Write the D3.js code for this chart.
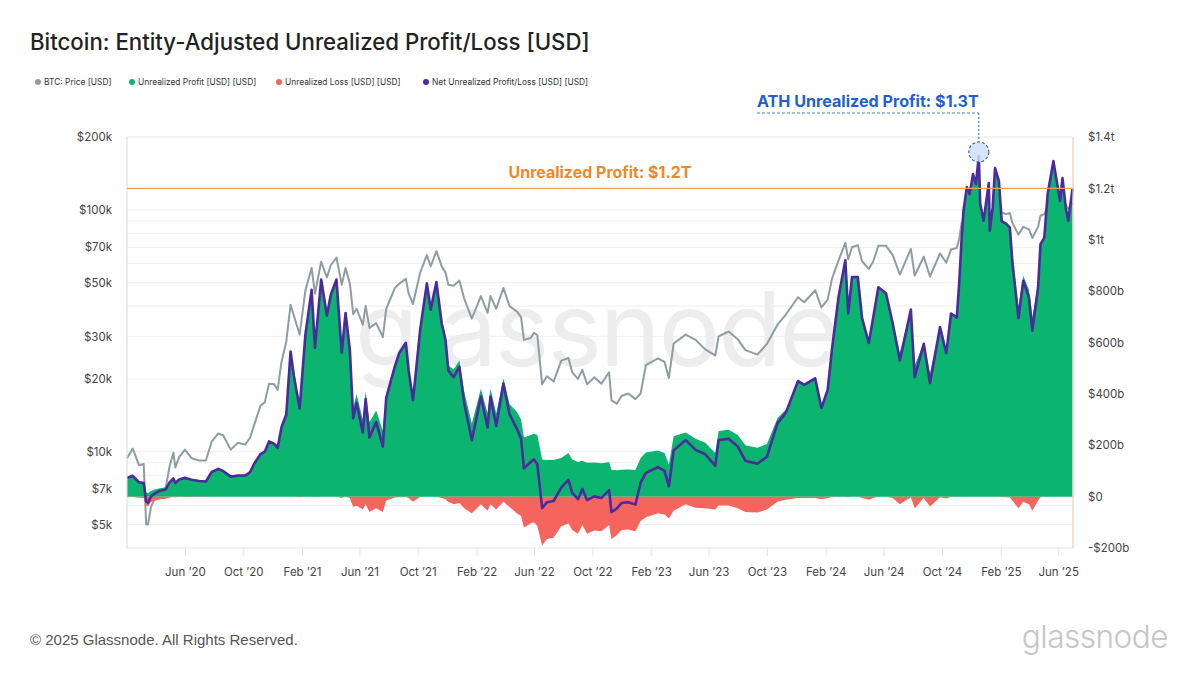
<!DOCTYPE html>
<html><head><meta charset="utf-8">
<script src="https://cdn.jsdelivr.net/npm/d3@7"></script>
<style>body{margin:0;background:#fff}svg{display:block}</style>
</head><body>
<svg id="c" width="1200" height="675"></svg>
<script>
// ---------------- DATA ----------------
const dates = ["2020-02-01","2020-02-13","2020-02-26","2020-03-07","2020-03-12","2020-03-16","2020-03-22","2020-03-30","2020-04-10","2020-04-22","2020-04-30","2020-05-08","2020-05-12","2020-05-20","2020-06-01","2020-06-15","2020-07-01","2020-07-15","2020-07-27","2020-08-10","2020-08-20","2020-09-05","2020-09-20","2020-10-05","2020-10-15","2020-10-25","2020-11-06","2020-11-15","2020-11-24","2020-12-05","2020-12-12","2020-12-20","2020-12-30","2021-01-08","2021-01-15","2021-01-27","2021-02-08","2021-02-21","2021-02-28","2021-03-13","2021-03-25","2021-04-02","2021-04-14","2021-04-25","2021-05-03","2021-05-12","2021-05-19","2021-05-26","2021-06-08","2021-06-14","2021-06-22","2021-07-06","2021-07-20","2021-07-27","2021-08-14","2021-08-23","2021-09-06","2021-09-12","2021-09-21","2021-10-06","2021-10-20","2021-10-28","2021-11-09","2021-11-20","2021-11-28","2021-12-04","2021-12-15","2021-12-27","2022-01-06","2022-01-22","2022-02-10","2022-02-24","2022-03-02","2022-03-14","2022-03-29","2022-04-11","2022-04-26","2022-05-05","2022-05-11","2022-05-25","2022-06-01","2022-06-08","2022-06-18","2022-06-28","2022-07-12","2022-07-28","2022-08-12","2022-08-20","2022-09-01","2022-09-10","2022-09-20","2022-10-05","2022-10-20","2022-11-05","2022-11-10","2022-11-21","2022-12-01","2022-12-15","2022-12-30","2023-01-10","2023-01-21","2023-02-15","2023-03-01","2023-03-10","2023-03-20","2023-04-14","2023-05-05","2023-05-25","2023-06-15","2023-06-22","2023-07-13","2023-08-01","2023-08-17","2023-09-11","2023-10-01","2023-10-23","2023-11-10","2023-12-05","2023-12-18","2024-01-10","2024-01-23","2024-02-05","2024-02-14","2024-02-28","2024-03-13","2024-03-19","2024-03-27","2024-04-08","2024-04-17","2024-05-01","2024-05-10","2024-05-21","2024-06-06","2024-06-20","2024-07-05","2024-07-28","2024-08-05","2024-08-24","2024-09-06","2024-09-27","2024-10-10","2024-10-20","2024-11-01","2024-11-06","2024-11-11","2024-11-15","2024-11-22","2024-11-28","2024-12-05","2024-12-11","2024-12-17","2024-12-20","2024-12-27","2025-01-07","2025-01-09","2025-01-15","2025-01-20","2025-01-28","2025-02-03","2025-02-12","2025-02-20","2025-02-25","2025-03-10","2025-03-20","2025-04-01","2025-04-08","2025-04-20","2025-04-25","2025-05-03","2025-05-10","2025-05-22","2025-06-05","2025-06-10","2025-06-17","2025-06-22","2025-07-01"];
// BTC price, thousands of USD
const priceK = [9.4,10.3,8.8,8.9,5.0,5.0,5.9,6.4,6.9,7.1,8.7,9.9,8.6,9.5,10.2,9.4,9.2,9.2,11.0,11.9,11.7,10.2,10.9,10.7,11.4,13.1,15.5,16.0,19.1,19.0,18.0,23.5,28.5,40.5,36.5,30.5,46.5,57.5,45.0,61.0,52.5,59.0,63.5,49.0,57.5,49.5,37.0,39.0,33.5,40.0,32.5,34.0,29.8,39.0,47.5,49.5,51.8,45.0,40.8,55.0,65.0,58.5,67.5,58.5,55.0,49.0,48.5,51.0,43.0,35.5,44.0,37.5,44.0,39.0,47.5,40.0,38.0,36.0,29.0,29.5,31.0,30.3,19.0,20.5,19.5,23.8,24.4,21.3,20.0,21.8,19.0,20.3,19.1,21.3,16.3,15.8,17.0,17.4,16.5,17.4,22.8,24.3,23.5,20.2,28.0,30.5,29.0,26.5,25.0,30.0,31.4,29.2,26.3,25.2,27.9,33.5,37.0,43.5,41.5,46.5,39.5,42.5,51.8,62.0,73.0,62.5,70.0,71.5,61.3,57.0,61.0,71.0,71.0,65.0,54.0,69.0,53.5,64.0,53.0,66.0,60.5,68.5,69.5,75.5,88.0,91.0,99.0,95.5,101.0,98.0,106.0,95.0,94.0,102.0,92.5,98.0,106.0,102.0,97.5,96.0,97.0,88.5,79.0,85.0,83.0,76.5,85.0,94.5,96.0,103.0,111.0,101.5,109.5,104.5,101.0,106.5];
// Unrealized profit, billions of USD
const profitB = [75,82,60,58,16,14,22,28,33,36,58,72,55,68,74,67,62,60,96,108,100,78,82,82,95,132,165,175,215,205,190,270,320,565,470,345,630,805,580,845,705,785,845,565,715,575,345,400,300,410,290,335,255,400,510,560,600,495,395,650,830,728,835,680,620,510,495,530,410,285,420,325,420,325,460,360,330,300,230,240,245,240,145,143,143,150,170,145,135,140,132,133,130,135,105,103,105,106,104,150,172,180,170,125,235,250,225,210,170,255,260,240,200,190,205,305,340,455,440,465,355,420,575,780,920,715,855,855,700,610,700,815,792,680,560,730,510,600,480,662,565,713,700,830,1000,1112,1205,1178,1256,1217,1326,1140,1074,1221,1035,1124,1279,1229,1074,1065,1050,935,740,860,805,700,830,985,1008,1178,1306,1151,1240,1124,1074,1198];
// Unrealized loss (magnitude), billions of USD
const lossB = [2,1,4,5,35,38,22,16,10,8,3,1,2,1,1,1,1,1,0,0,0,0,0,0,0,0,0,0,0,0,0,0,0,0,0,2,0,0,1,0,0,0,0,5,0,5,40,35,50,30,60,45,60,15,3,2,1,5,20,0,0,0,0,5,10,20,30,25,45,65,30,55,30,50,20,40,65,75,120,105,100,115,190,165,160,115,105,130,145,110,145,132,135,110,165,150,130,128,135,95,80,65,70,85,55,30,43,45,50,35,35,45,60,62,50,20,12,5,5,5,10,5,2,0,0,2,0,0,5,12,5,0,0,5,30,2,45,5,38,2,7,0,2,0,0,0,0,0,0,0,0,0,0,0,0,0,0,0,2,2,3,15,45,20,30,55,15,2,0,0,0,0,0,0,0,0];
// Net unrealized profit/loss, billions of USD
const netB = [73,81,56,53,-19,-24,0,12,23,28,55,71,53,67,73,66,61,59,96,108,100,78,82,82,95,132,165,175,215,205,190,270,320,565,470,343,630,805,579,845,705,785,845,560,715,570,305,365,250,380,230,290,195,385,507,558,599,490,375,650,830,728,835,675,610,490,465,505,365,220,390,270,390,275,440,320,265,225,110,135,145,125,-45,-22,-17,35,65,15,-10,30,-13,1,-5,25,-60,-47,-25,-22,-31,55,92,115,100,40,180,220,182,165,120,220,225,195,140,128,155,285,328,450,435,460,345,415,573,780,920,713,855,855,695,598,695,815,792,675,530,728,465,595,442,660,558,713,698,830,1000,1112,1205,1178,1256,1217,1326,1140,1074,1221,1035,1124,1279,1229,1072,1063,1047,920,695,840,775,645,815,983,1008,1178,1306,1151,1240,1124,1074,1198];

const leftTicksK = [5,7,10,20,30,50,70,100,200];
const leftTickLabels = ["$5k","$7k","$10k","$20k","$30k","$50k","$70k","$100k","$200k"];
const leftGridK = [5,6,7,8,9,10,20,30,40,50,60,70,80,90,100,200];
const rightTicksB = [-200,0,200,400,600,800,1000,1200,1400];
const rightTickLabels = ["-$200b","$0","$200b","$400b","$600b","$800b","$1t","$1.2t","$1.4t"];
const xTickDates = ["2020-06-01","2020-10-01","2021-02-01","2021-06-01","2021-10-01","2022-02-01","2022-06-01","2022-10-01","2023-02-01","2023-06-01","2023-10-01","2024-02-01","2024-06-01","2024-10-01","2025-02-01","2025-06-01"];
const xTickLabels = ["Jun ’20","Oct ’20","Feb ’21","Jun ’21","Oct ’21","Feb ’22","Jun ’22","Oct ’22","Feb ’23","Jun ’23","Oct ’23","Feb ’24","Jun ’24","Oct ’24","Feb ’25","Jun ’25"];
const legendLabels = ["BTC: Price [USD]","Unrealized Profit [USD] [USD]","Unrealized Loss [USD] [USD]","Net Unrealized Profit/Loss [USD] [USD]"];
const refLevelB = 1200;
const refLabel = "Unrealized Profit: $1.2T";
const athDate = "2024-12-17";
const athB = 1326;
const athLabel = "ATH Unrealized Profit: $1.3T";
const xDomain = ["2020-02-01","2025-07-02"];

// ---------------- CHART ----------------
const parse = d3.utcParse("%Y-%m-%d");
const data = dates.map((d,i)=>({date:parse(d),price:priceK[i],profit:profitB[i],loss:lossB[i],net:netB[i]}));
const svg = d3.select("#c");
const W = 1200, H = 675;
const m = {l:127, r:1073, t:137, b:548};
const COL = {green:"#0bb46f", red:"#f5655d", purple:"#4a2a9d", gray:"#8f9da1", orange:"#f0a04d", orangeText:"#ea8a2a", blue:"#1f5fd2"};
const FONT = "Inter, 'Noto Sans', sans-serif";

svg.append("rect").attr("width",W).attr("height",H).attr("fill","#fff");

const x = d3.scaleUtc().domain(xDomain.map(parse)).range([m.l, m.r]);
const yL = d3.scaleLog().domain([4, 200]).range([m.b, m.t]);
const yR = d3.scaleLinear().domain([-200, 1400]).range([m.b, m.t]);

function fit(sel, target){
  const w = sel.node().getComputedTextLength();
  const fs = parseFloat(sel.attr("font-size"));
  if (w > 0) sel.attr("font-size", fs*target/w);
  return sel;
}

// title
fit(svg.append("text").attr("x",30).attr("y",50).attr("font-family",FONT).attr("font-size",21)
  .attr("font-weight",500).attr("fill","#222").text("Bitcoin: Entity-Adjusted Unrealized Profit/Loss [USD]"), 560);

// legend
const legCols = [COL.gray, COL.green, COL.red, COL.purple];
const legX = [38,132,279,426];
legendLabels.forEach((t,i)=>{
  svg.append("circle").attr("cx",legX[i]).attr("cy",82).attr("r",3).attr("fill",legCols[i]);
  svg.append("text").attr("x",legX[i]+6).attr("y",85).attr("font-family",FONT).attr("font-size",8.4)
    .attr("fill","#333").text(t);
});

// watermark
fit(svg.append("text").attr("x",355).attr("y",366).attr("font-family",FONT).attr("font-size",118)
  .attr("font-weight",400).attr("fill","#ededed").attr("letter-spacing",-2).text("glassnode"), 485);

// gridlines (left log axis)
svg.append("g").selectAll("line").data(leftGridK).join("line")
  .attr("x1",m.l).attr("x2",m.r).attr("y1",d=>yL(d)).attr("y2",d=>yL(d))
  .attr("stroke","#eeeeee").attr("stroke-width",1);
svg.append("line").attr("x1",m.l).attr("x2",m.r).attr("y1",m.t).attr("y2",m.t).attr("stroke","#eeeeee");
svg.append("line").attr("x1",m.l).attr("x2",m.r).attr("y1",m.b).attr("y2",m.b).attr("stroke","#e6e6e6");

// price line
svg.append("path").datum(data).attr("fill","none").attr("stroke",COL.gray).attr("stroke-width",2)
  .attr("stroke-linejoin","round")
  .attr("d", d3.line().x(d=>x(d.date)).y(d=>yL(d.price)));

// profit area
svg.append("path").datum(data).attr("fill",COL.green)
  .attr("d", d3.area().x(d=>x(d.date)).y0(yR(0)).y1(d=>yR(d.profit)));
// loss area
svg.append("path").datum(data).attr("fill",COL.red)
  .attr("d", d3.area().x(d=>x(d.date)).y0(yR(0)).y1(d=>yR(-d.loss)));
// net line
svg.append("path").datum(data).attr("fill","none").attr("stroke",COL.purple).attr("stroke-width",2.6)
  .attr("stroke-linejoin","round")
  .attr("d", d3.line().x(d=>x(d.date)).y(d=>yR(d.net)));

// axes lines
svg.append("line").attr("x1",m.l).attr("x2",m.l).attr("y1",m.t).attr("y2",m.b).attr("stroke","#d9d9d9");
svg.append("line").attr("x1",m.r).attr("x2",m.r).attr("y1",m.t).attr("y2",m.b).attr("stroke","#ebcdb8").attr("stroke-width",1.2);

// left axis
const gL = svg.append("g").attr("transform",`translate(${m.l-15},0)`)
  .call(d3.axisLeft(yL).tickValues(leftTicksK).tickFormat((d,i)=>leftTickLabels[i]).tickSize(0).tickPadding(0));
gL.select(".domain").remove();
gL.selectAll("text").attr("font-family",FONT).attr("font-size",11.5).attr("fill","#444");

// right axis
const gR = svg.append("g").attr("transform",`translate(${m.r+15},0)`)
  .call(d3.axisRight(yR).tickValues(rightTicksB).tickFormat((d,i)=>rightTickLabels[i]).tickSize(0).tickPadding(0));
gR.select(".domain").remove();
gR.selectAll("text").attr("font-family",FONT).attr("font-size",11.5).attr("fill","#444");

// bottom axis
const gB = svg.append("g").attr("transform",`translate(0,${m.b})`)
  .call(d3.axisBottom(x).tickValues(xTickDates.map(parse)).tickFormat((d,i)=>xTickLabels[i]).tickSize(8).tickPadding(12));
gB.select(".domain").remove();
gB.selectAll("line").attr("stroke","#e3e3e3");
gB.selectAll("text").attr("font-family",FONT).attr("font-size",11.5).attr("fill","#444");

// reference line 1.2T
svg.append("line").attr("x1",m.l).attr("x2",m.r).attr("y1",yR(refLevelB)).attr("y2",yR(refLevelB))
  .attr("stroke",COL.orange).attr("stroke-width",1.3);
fit(svg.append("text").attr("x",600).attr("y",yR(refLevelB)-10).attr("text-anchor","middle")
  .attr("font-family",FONT).attr("font-size",15).attr("font-weight",700).attr("fill",COL.orangeText).text(refLabel), 183);

// ATH annotation
const ax = x(parse(athDate)), ay = yR(athB) - 4;
svg.append("circle").attr("cx",ax).attr("cy",ay).attr("r",10).attr("fill","#cfe0f7").attr("fill-opacity",0.85)
  .attr("stroke","#3b5f9a").attr("stroke-width",1.1).attr("stroke-dasharray","3,2");
svg.append("line").attr("x1",ax).attr("x2",ax).attr("y1",113).attr("y2",ay-10)
  .attr("stroke","#5a7fb0").attr("stroke-width",1.2).attr("stroke-dasharray","2,2");
svg.append("line").attr("x1",757).attr("x2",ax).attr("y1",113).attr("y2",113)
  .attr("stroke","#5a7fb0").attr("stroke-width",1.2).attr("stroke-dasharray","3,2");
fit(svg.append("text").attr("x",ax).attr("y",107).attr("text-anchor","end")
  .attr("font-family",FONT).attr("font-size",17).attr("font-weight",700).attr("fill",COL.blue).text(athLabel), 222);

// footer
fit(svg.append("text").attr("x",30).attr("y",645).attr("font-family","'Liberation Sans', Arial, sans-serif")
  .attr("font-size",15).attr("fill","#555").text("© 2025 Glassnode. All Rights Reserved."), 268);
fit(svg.append("text").attr("x",1168).attr("y",648).attr("text-anchor","end").attr("font-family",FONT)
  .attr("font-size",30).attr("font-weight",300).attr("fill","#c6c6c6").attr("letter-spacing",-0.5).text("glassnode"), 146);
</script>
</body></html>
